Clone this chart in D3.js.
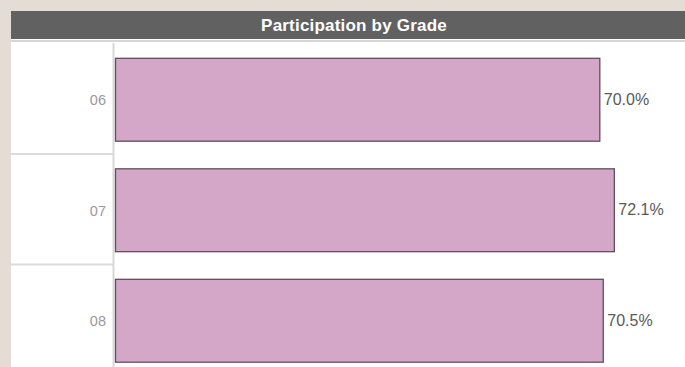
<!DOCTYPE html>
<html><head><meta charset="utf-8">
<script src="https://cdn.jsdelivr.net/npm/d3@7"></script>
<style>
html,body{margin:0;padding:0;background:#e4ddd6;overflow:hidden;}
svg{display:block;}
</style></head>
<body>
<script>
const title = "Participation by Grade";
const grades = ["06", "07", "08"];
const participation = [70.0, 72.1, 70.5];
const valueLabels = ["70.0%", "72.1%", "70.5%"];

const W = 685, H = 367;
const svg = d3.select("body").append("svg").attr("width", W).attr("height", H);

// panel
svg.append("rect").attr("x", 11).attr("y", 11).attr("width", W - 11).attr("height", H - 11).attr("fill", "#ffffff");
svg.append("rect").attr("x", 11).attr("y", 11).attr("width", W - 11).attr("height", 28).attr("fill", "#616161");
svg.append("rect").attr("x", 11).attr("y", 40).attr("width", W - 11).attr("height", 2).attr("fill", "#d6d6d6");
svg.append("text").attr("x", 354).attr("y", 31).attr("text-anchor", "middle")
  .attr("fill", "#ffffff").attr("font-family", "'Liberation Sans', Arial, sans-serif")
  .attr("font-weight", "bold").attr("font-size", "17px").attr("letter-spacing", "0.2px").text(title);

const x0 = 115;
const x = d3.scaleLinear().domain([0, 82.3]).range([x0, W]);
const y = d3.scaleBand().domain(grades).range([44, 44 + 3 * 110.5]).paddingInner(0.25).paddingOuter(0.125);
const band = d3.scaleBand().domain(grades).range([44, 44 + 3 * 110.5]);

// row separators
svg.append("g").selectAll("line").data(grades.slice(1)).join("line")
  .attr("x1", 11).attr("x2", 113).attr("y1", d => band(d) - 0.5).attr("y2", d => band(d) - 0.5)
  .attr("stroke", "#dcdcdc").attr("stroke-width", 2);

// axis line
svg.append("line").attr("x1", 113.5).attr("x2", 113.5).attr("y1", 43).attr("y2", H)
  .attr("stroke", "#d8d8d8").attr("stroke-width", 2);

// bars
svg.append("g").selectAll("rect").data(grades).join("rect")
  .attr("x", x(0) + 0.5)
  .attr("y", d => y(d) + 0.5)
  .attr("width", (d, i) => x(participation[i]) - x(0) - 0.5)
  .attr("height", y.bandwidth())
  .attr("fill", "#d4a6c8").attr("stroke", "#5e5059").attr("stroke-width", 1.3);

// category labels
const yAxis = d3.axisLeft(band).tickSize(0).tickPadding(8);
const ga = svg.append("g").attr("transform", "translate(" + 106 + ",0)").call(yAxis);
ga.select(".domain").remove();
ga.selectAll("text").attr("x", 0).attr("dy", "0.4em").attr("fill", "#9a9a9a")
  .attr("font-family", "'Liberation Sans', Arial, sans-serif").attr("font-size", "14.5px");

// value labels
svg.append("g").selectAll("text").data(grades).join("text")
  .attr("x", (d, i) => x(participation[i]) + 4)
  .attr("y", d => y(d) + y.bandwidth() / 2)
  .attr("dy", "0.35em")
  .attr("fill", "#595959")
  .attr("font-family", "'Liberation Sans', Arial, sans-serif").attr("font-size", "16px")
  .text((d, i) => valueLabels[i]);
</script>
</body></html>
